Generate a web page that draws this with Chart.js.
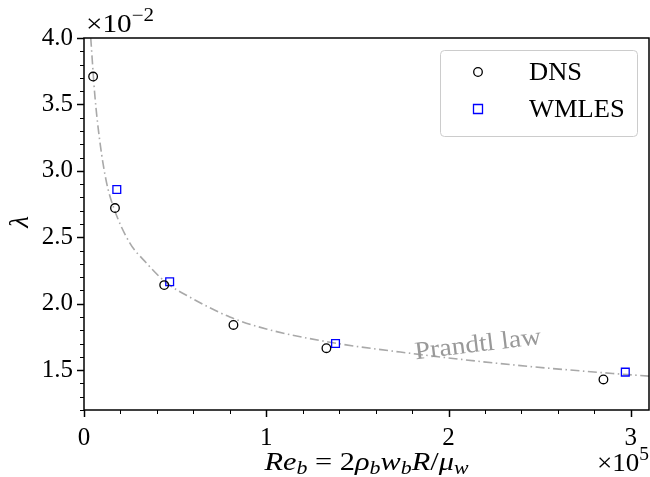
<!DOCTYPE html>
<html>
<head>
<meta charset="utf-8">
<script src="https://cdn.jsdelivr.net/npm/chart.js@4.4.0/dist/chart.umd.min.js"></script>
<style>
html, body { margin: 0; padding: 0; background: #fff; }
#wrap { width: 650px; height: 477px; }
</style>
</head>
<body>
<div id="wrap"><canvas id="c" width="650" height="477"></canvas></div>
<script>
// values (x in 1e5, lambda in 1e-2)
var dnsRe = [0.05, 0.17, 0.44, 0.82, 1.33, 2.85];
var dnsLambda = [3.71, 2.72, 2.14, 1.84, 1.665, 1.43];
var wmlesRe = [0.18, 0.47, 1.38, 2.97];
var wmlesLambda = [2.86, 2.165, 1.70, 1.485];
var prandtlRe = [0.037, 0.06, 0.088, 0.124, 0.161, 0.25, 0.34, 0.45, 0.58, 0.8, 1.0, 1.35, 1.8, 2.35, 2.9, 3.1];
var prandtlLambda = [4.0, 3.56, 3.21, 2.91, 2.73, 2.46, 2.31, 2.16, 2.05, 1.90, 1.81, 1.71, 1.625, 1.54, 1.475, 1.455];
var xTicks = [0, 1, 2, 3];
var yTicks = [1.5, 2.0, 2.5, 3.0, 3.5, 4.0];
var seriesNames = ['DNS', 'WMLES'];

var SERIF = '"Liberation Serif", "DejaVu Serif", serif';

function pts(xs, ys) {
    return xs.map(function(x, i) { return { x: x, y: ys[i] }; });
}

// draw a run of [text, kind] pieces, stretched to a given width
function drawRun(ctx, segs, x, y, width, big, small, supShift) {
    function fontFor(k) {
        var it = (k === 'i' || k === 's') ? 'italic ' : '';
        var sz = (k === 's' || k === 'p') ? small : big;
        return it + sz + 'px ' + SERIF;
    }
    var total = 0;
    segs.forEach(function(s) { ctx.font = fontFor(s[1]); total += ctx.measureText(s[0]).width; });
    var sx = width / total;
    ctx.save();
    ctx.translate(x, y);
    ctx.scale(sx, 1);
    var tx = 0;
    segs.forEach(function(s) {
        ctx.font = fontFor(s[1]);
        var dy = s[1] === 's' ? 4 : (s[1] === 'p' ? -supShift : 0);
        ctx.fillText(s[0], tx, dy);
        tx += ctx.measureText(s[0]).width;
    });
    ctx.restore();
}

var decor = {
    id: 'decor',
    afterDraw: function(chart) {
        var ctx = chart.ctx;
        var a = chart.chartArea;
        var xs = chart.scales.x, ys = chart.scales.y;
        ctx.save();
        ctx.strokeStyle = '#000';

        // ticks, outward
        ctx.lineWidth = 1.5;
        xTicks.forEach(function(v) {
            var px = Math.round(xs.getPixelForValue(v)) + 0.5;
            ctx.beginPath(); ctx.moveTo(px, a.bottom); ctx.lineTo(px, a.bottom + 7); ctx.stroke();
        });
        yTicks.forEach(function(v) {
            var py = Math.round(ys.getPixelForValue(v)) + 0.5;
            ctx.beginPath(); ctx.moveTo(a.left, py); ctx.lineTo(a.left - 7, py); ctx.stroke();
        });
        ctx.lineWidth = 1;
        for (var i = 0; i <= 15; i++) {
            if (i % 5 === 0) continue;
            var px = Math.round(xs.getPixelForValue(i * 0.2)) + 0.5;
            ctx.beginPath(); ctx.moveTo(px, a.bottom); ctx.lineTo(px, a.bottom + 4); ctx.stroke();
        }
        for (var j = 12; j <= 40; j++) {
            if (j % 5 === 0) continue;
            var py = Math.round(ys.getPixelForValue(j / 10)) + 0.5;
            ctx.beginPath(); ctx.moveTo(a.left, py); ctx.lineTo(a.left - 4, py); ctx.stroke();
        }

        // frame
        ctx.lineWidth = 1.5;
        ctx.strokeRect(a.left, a.top, a.right - a.left, a.bottom - a.top);

        ctx.fillStyle = '#000';
        ctx.textBaseline = 'alphabetic';
        ctx.textAlign = 'left';

        // x title
        var titleW = 204;
        drawRun(ctx, [
            ['Re', 'i'], ['b', 's'], [' = 2', 'r'], ['\u03C1', 'i'], ['b', 's'],
            ['w', 'i'], ['b', 's'], ['R', 'i'], ['/', 'r'], ['\u03BC', 'i'], ['w', 's']
        ], (a.left + a.right) / 2 - titleW / 2, 470, titleW, 25, 18, 0);

        // y title
        ctx.save();
        ctx.translate(28, 222);
        ctx.rotate(-Math.PI / 2);
        ctx.font = 'italic 27px ' + SERIF;
        ctx.textAlign = 'center';
        ctx.fillText('\u03BB', 0, 0);
        ctx.restore();

        // offset texts
        drawRun(ctx, [['\u00D710', 'r'], ['\u22122', 'p']], 86, 32, 68, 25, 18, 11);
        drawRun(ctx, [['\u00D710', 'r'], ['5', 'p']], 597, 471, 52, 25, 18, 11);

        // curve label
        ctx.save();
        ctx.translate(478, 345);
        ctx.rotate(-7 * Math.PI / 180);
        ctx.fillStyle = '#999999';
        ctx.font = '25px ' + SERIF;
        ctx.textAlign = 'center';
        ctx.textBaseline = 'middle';
        ctx.scale(127 / ctx.measureText('Prandtl law').width, 1);
        ctx.fillText('Prandtl law', 0, 0);
        ctx.restore();

        // legend
        var lx = 440, ly = 50, lw = 197, lh = 86;
        ctx.beginPath();
        ctx.roundRect(lx + 0.5, ly + 0.5, lw, lh, 4);
        ctx.fillStyle = 'rgba(255,255,255,0.8)';
        ctx.fill();
        ctx.strokeStyle = '#cccccc';
        ctx.lineWidth = 1;
        ctx.stroke();
        var rows = [72, 109];
        chart.data.datasets.slice(0, 2).forEach(function(ds, k) {
            var cy = rows[k];
            ctx.strokeStyle = ds.borderColor;
            ctx.lineWidth = ds.borderWidth;
            ctx.beginPath();
            if (ds.pointStyle === 'rect') {
                ctx.rect(478 - 4.5, cy - 4.5, 9, 9);
            } else {
                ctx.arc(478, cy, 4.3, 0, Math.PI * 2);
            }
            ctx.stroke();
            ctx.fillStyle = '#000';
            ctx.font = '25px ' + SERIF;
            ctx.textAlign = 'left';
            ctx.textBaseline = 'middle';
            ctx.save();
            ctx.translate(529, cy + 1);
            ctx.scale(1.06, 1);
            ctx.fillText(seriesNames[k], 0, 0);
            ctx.restore();
        });
        ctx.restore();
    }
};

var ctx = document.getElementById('c').getContext('2d');
var chart = new Chart(ctx, {
    type: 'scatter',
    data: {
        datasets: [{
            label: seriesNames[0],
            data: pts(dnsRe, dnsLambda),
            pointStyle: 'circle',
            pointRadius: 4.3,
            borderColor: '#000000',
            backgroundColor: 'rgba(0,0,0,0)',
            borderWidth: 1.3
        }, {
            label: seriesNames[1],
            data: pts(wmlesRe, wmlesLambda),
            pointStyle: 'rect',
            pointRadius: 5.5,
            borderColor: '#0000ff',
            backgroundColor: 'rgba(0,0,0,0)',
            borderWidth: 1.3
        }, {
            label: 'Prandtl law',
            data: pts(prandtlRe, prandtlLambda),
            showLine: true,
            pointRadius: 0,
            borderColor: '#a9a9a9',
            borderWidth: 1.6,
            borderDash: [9, 3.5, 1.5, 3.5],
            cubicInterpolationMode: 'monotone',
            fill: false
        }]
    },
    options: {
        responsive: false,
        animation: false,
        layout: { autoPadding: false, padding: { top: 38, right: 1, left: 0, bottom: 0 } },
        plugins: {
            legend: { display: false },
            tooltip: { enabled: false }
        },
        scales: {
            x: {
                type: 'linear',
                min: 0,
                max: 3.1,
                grid: { display: false, drawTicks: false },
                border: { display: false },
                afterBuildTicks: function(s) { s.ticks = xTicks.map(function(v) { return { value: v }; }); },
                afterFit: function(s) { s.height = 67; s.paddingLeft = 0; s.paddingRight = 0; },
                ticks: {
                    padding: 13,
                    color: '#000',
                    font: { family: SERIF, size: 25 },
                    callback: function(v) { return String(v); }
                }
            },
            y: {
                type: 'linear',
                min: 1.2,
                max: 4.0,
                grid: { display: false, drawTicks: false },
                border: { display: false },
                afterBuildTicks: function(s) { s.ticks = yTicks.map(function(v) { return { value: v }; }); },
                afterFit: function(s) { s.width = 84; s.paddingTop = 0; s.paddingBottom = 0; },
                ticks: {
                    padding: 11,
                    color: '#000',
                    font: { family: SERIF, size: 25 },
                    callback: function(v) { return Number(v).toFixed(1); }
                }
            }
        }
    },
    plugins: [decor]
});
</script>
</body>
</html>
